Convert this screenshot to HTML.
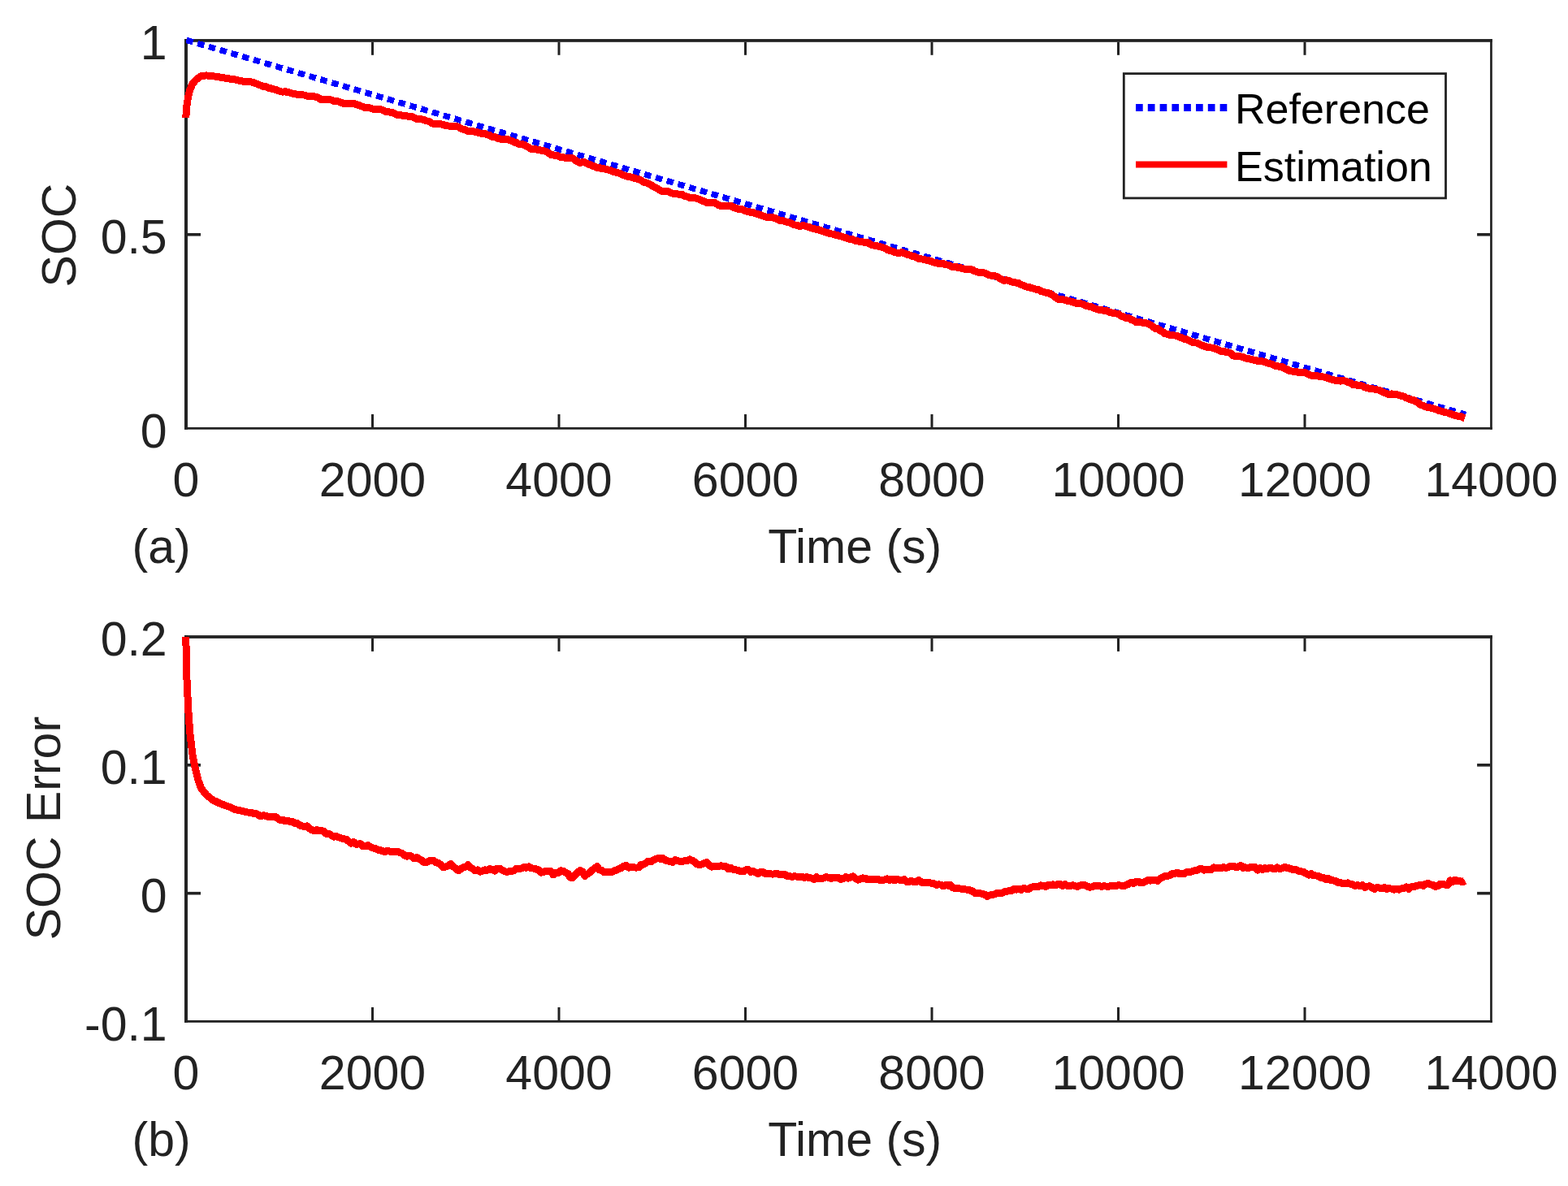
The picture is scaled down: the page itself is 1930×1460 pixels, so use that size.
<!DOCTYPE html>
<html><head><meta charset="utf-8"><title>SOC estimation</title>
<style>html,body{margin:0;padding:0;background:#fff;}svg{display:block;}</style>
</head><body>
<svg width="1930" height="1460" viewBox="0 0 1930 1460">
<rect width="1930" height="1460" fill="#ffffff"/>
<g fill="#222222">
<rect x="227" y="48.06" width="1609.8" height="3.74"/>
<rect x="227" y="525.96" width="1609.8" height="2.74"/>
<rect x="227" y="48.06" width="4" height="480.64"/>
<rect x="1834.1" y="48.06" width="2.7" height="480.64"/>
<rect x="457" y="509.96" width="3" height="16"/>
<rect x="457" y="51.8" width="3" height="16"/>
<rect x="686.5" y="509.96" width="3" height="16"/>
<rect x="686.5" y="51.8" width="3" height="16"/>
<rect x="916" y="509.96" width="3" height="16"/>
<rect x="916" y="51.8" width="3" height="16"/>
<rect x="1145.5" y="509.96" width="3" height="16"/>
<rect x="1145.5" y="51.8" width="3" height="16"/>
<rect x="1375" y="509.96" width="3" height="16"/>
<rect x="1375" y="51.8" width="3" height="16"/>
<rect x="1604.5" y="509.96" width="3" height="16"/>
<rect x="1604.5" y="51.8" width="3" height="16"/>
<rect x="231" y="286.95" width="16" height="3.6"/>
<rect x="1818.1" y="286.95" width="16" height="3.6"/>
</g>
<path d="M229.42 49.42 L1804.00 510.30" fill="none" stroke="#0000ff" stroke-width="7.4" stroke-dasharray="8.5 5.828" shape-rendering="crispEdges"/><path d="M228.9 144.7L229.2 135.9L230 129.2L231.1 122.5L232.3 115.8L234.2 109.4L237 103.2L240 99.5L243.9 95.9L247.7 93.8L253.9 92.9L261.6 93.6L270.9 95.1L281.7 96.9L290 98.1L300 100.4L303 100L306 100.2L309 100.8L312 101.5L315 102.8L318 104.1L321 105.1L324 106.5L327 106.5L330 108.1L333 108.5L336 109.8L339 110.3L342 111.4L345 112.6L348 113.2L351 112.7L354 113.6L357 114.1L360 115.1L363 115.7L366 116.4L369 116.3L372 116.8L375 117.1L378 118.2L381 118.6L384 118.5L387 118.9L390 119.6L393 121.2L396 123L399 122.7L402 122.4L405 122.1L408 123.2L411 124.4L414 124.5L417 125.2L420 126.5L423 127.3L426 127.1L429 127L432 127.1L435 127.3L438 128.4L441 129.4L444 130.4L447 131.5L450 132.7L453 132.9L456 133L459 134.2L462 134.3L465 134.4L468 134.7L471 135.3L474 137.2L477 137.3L480 138.1L483 138.4L486 139.8L489 141.3L492 141.7L495 142L498 142.8L501 142.8L504 144L507 143.4L510 145L513 146.3L516 146.1L519 147L522 147.7L525 148.8L528 149.4L531 151.3L534 152.7L537 152.8L540 152.4L543 152.9L546 153.7L549 154.8L552 155L555 155.4L558 155.3L561 155.4L564 156.1L567 158L570 159.2L573 159.8L576 161.3L579 161.2L582 161.6L585 162.3L588 162.9L591 164L594 164.4L597 164.6L600 165.8L603 166.7L606 168.4L609 168.6L612 170.1L615 170.9L618 171.8L621 171.1L624 171L627 172.4L630 173.6L633 175.1L636 175.7L639 177.5L642 177.5L645 178.2L648 180.1L651 181.6L654 183.6L657 184L660 183.9L663 184.3L666 185.1L669 185.6L672 186.5L675 188L678 190.3L681 191L684 191.3L687 192L690 193.5L693 193.8L696 194.3L699 194.1L702 194.3L705 194.8L708 197.2L711 199.2L714 200.5L717 199.5L720 199.9L723 201.7L726 202.6L729 204L732 204.8L735 206.4L738 206.7L741 207.8L744 207.8L747 208.7L750 209.3L753 210.4L756 211.7L759 212.4L762 213.1L765 214.4L768 215.8L771 217L774 217.6L777 218L780 219.1L783 219.8L786 220.6L789 222L792 224.1L795 224.8L798 225.8L801 227.5L804 229.7L807 231L810 232.6L813 234.6L816 235.6L819 235.8L822 235.5L825 237.1L828 238.1L831 238.7L834 238.9L837 239.5L840 239.7L843 241.4L846 242L849 243.7L852 243.1L855 243.7L858 244.4L861 245.6L864 247.2L867 248L870 249.4L873 249L876 249.3L879 249.1L882 251L885 252.8L888 253.7L891 253.3L894 253.6L897 253.6L900 253.7L903 255.3L906 256.4L909 257.4L912 257.3L915 258.5L918 260L921 260.4L924 261.4L927 261.6L930 262.9L933 263.7L936 264.6L939 265.8L942 267L945 267L948 267.2L951 267.6L954 268.6L957 269.9L960 271.7L963 271.5L966 272.6L969 273.3L972 274.1L975 275.7L978 276.8L981 277.4L984 278.3L987 277.9L990 277.9L993 278.9L996 279.4L999 280.8L1002 281.5L1005 282.4L1008 282.9L1011 284.1L1014 285.2L1017 286.2L1020 287L1023 287.8L1026 288.4L1029 289.3L1032 290L1035 290.9L1038 291.9L1041 292.5L1044 293.8L1047 294.5L1050 294.9L1053 296.5L1056 296.9L1059 297.9L1062 297.9L1065 298.6L1068 298.6L1071 300.5L1074 301.8L1077 302.4L1080 302.8L1083 303.7L1086 304.5L1089 305.5L1092 307.3L1095 308.4L1098 309.2L1101 310.7L1104 311.2L1107 311.3L1110 310.6L1113 311.8L1116 313.1L1119 313.8L1122 315.1L1125 315.7L1128 317.1L1131 318.7L1134 318.8L1137 319.4L1140 320.1L1143 320.6L1146 321.7L1149 322.8L1152 323.5L1155 324.3L1158 324.9L1161 324.5L1164 325.7L1167 326.2L1170 327.5L1173 328.7L1176 328.3L1179 329.4L1182 329.7L1185 330.6L1188 331.3L1191 331.8L1194 331.3L1197 332.2L1200 333.9L1203 334.9L1206 335.4L1209 335.4L1212 336L1215 337.5L1218 338.9L1221 339.2L1224 339.5L1227 340.4L1230 342.3L1233 343.9L1236 345.4L1239 344.8L1242 345.7L1245 347L1248 347.5L1251 348.2L1254 348.7L1257 350.5L1260 351.6L1263 353L1266 353.3L1269 354.3L1272 355.2L1275 356.1L1278 356.6L1281 358.3L1284 359.2L1287 360.2L1290 360.6L1293 361.7L1296 363.5L1299 365.8L1302 368.2L1305 368.4L1308 368.6L1311 369.4L1314 370.3L1317 370.9L1320 371.6L1323 372.6L1326 373.7L1329 373.4L1332 374.2L1335 375.6L1338 376.7L1341 377.4L1344 377.8L1347 379.5L1350 380.6L1353 381.4L1356 381.6L1359 382.5L1362 382.7L1365 384L1368 384.8L1371 385.5L1374 386L1377 386.6L1380 389.1L1383 389.9L1386 391.4L1389 391.5L1392 393.3L1395 394.3L1398 396.3L1401 396.6L1404 396.6L1407 397.4L1410 397.6L1413 398.4L1416 399.8L1419 402.2L1422 404.5L1425 404.6L1428 406.8L1431 408.4L1434 410.8L1437 411.4L1440 412.4L1443 412.7L1446 413L1449 413.7L1452 415L1455 416L1458 417.4L1461 417.9L1464 419.7L1467 421.2L1470 421.8L1473 422.1L1476 423.3L1479 425.1L1482 425.9L1485 427.1L1488 427.5L1491 428L1494 428.6L1497 429.7L1500 430.8L1503 432.4L1506 432.3L1509 433.4L1512 433.8L1515 435.1L1518 437.8L1521 438.6L1524 439L1527 438.8L1530 439.6L1533 441L1536 441.3L1539 442.1L1542 443L1545 443.4L1548 444.3L1551 444.9L1554 444.9L1557 445.5L1560 446.9L1563 447.5L1566 448.5L1569 450L1572 450.8L1575 451.2L1578 451.3L1581 453.7L1584 454.6L1587 456.4L1590 457L1593 457L1596 457.4L1599 458.9L1602 458.6L1605 458.4L1608 459.4L1611 461.2L1614 462.1L1617 462L1620 462.4L1623 463.1L1626 463.4L1629 464L1632 464.7L1635 465.7L1638 466.8L1641 467.5L1644 468.6L1647 468.2L1650 469.2L1653 468.5L1656 469.1L1659 470.5L1662 471.2L1665 473.4L1668 473.3L1671 474.4L1674 474.4L1677 475.1L1680 476.9L1683 477.7L1686 478.3L1689 478.9L1692 479.1L1695 479.8L1698 480.4L1701 481.8L1704 483.7L1707 484.4L1710 485.7L1713 484.9L1716 485.6L1719 485.5L1722 486.4L1725 487.5L1728 488.1L1731 489.9L1734 490.9L1737 492.1L1740 492.6L1743 494.5L1746 496.1L1749 498.8L1752 499.3L1755 501L1758 501.5L1761 502.1L1764 502.9L1767 503.8L1770 505L1773 505.8L1776 506.9L1779 507.7L1782 508.2L1785 509.5L1788 510.3L1791 511.4L1794 512.1L1797 512.3L1800 513.6L1803 514.6" fill="none" stroke="#ff0000" stroke-width="9" stroke-linejoin="round" shape-rendering="crispEdges"/>
<g font-family="'Liberation Sans', Arial, Helvetica, sans-serif" font-size="59" fill="#222222">
<text x="229" y="611" text-anchor="middle">0</text>
<text x="458.5" y="611" text-anchor="middle">2000</text>
<text x="688" y="611" text-anchor="middle">4000</text>
<text x="917.5" y="611" text-anchor="middle">6000</text>
<text x="1147" y="611" text-anchor="middle">8000</text>
<text x="1376.5" y="611" text-anchor="middle">10000</text>
<text x="1606" y="611" text-anchor="middle">12000</text>
<text x="1835.5" y="611" text-anchor="middle">14000</text>
<text x="205.7" y="73.4" text-anchor="end">1</text>
<text x="205.7" y="312.1" text-anchor="end">0.5</text>
<text x="205.7" y="550.9" text-anchor="end">0</text>
<text x="1052.2" y="692.8" text-anchor="middle">Time (s)</text>
<text x="162.6" y="692.8">(a)</text>
<text transform="translate(92.5 289.5) rotate(-90)" text-anchor="middle">SOC</text>
</g>
<g fill="#222222">
<rect x="227" y="782.1" width="1609.8" height="3.8"/>
<rect x="227" y="1256" width="1609.8" height="2.8"/>
<rect x="227" y="782.1" width="4" height="476.7"/>
<rect x="1834.1" y="782.1" width="2.7" height="476.7"/>
<rect x="457" y="1240" width="3" height="16"/>
<rect x="457" y="785.9" width="3" height="16"/>
<rect x="686.5" y="1240" width="3" height="16"/>
<rect x="686.5" y="785.9" width="3" height="16"/>
<rect x="916" y="1240" width="3" height="16"/>
<rect x="916" y="785.9" width="3" height="16"/>
<rect x="1145.5" y="1240" width="3" height="16"/>
<rect x="1145.5" y="785.9" width="3" height="16"/>
<rect x="1375" y="1240" width="3" height="16"/>
<rect x="1375" y="785.9" width="3" height="16"/>
<rect x="1604.5" y="1240" width="3" height="16"/>
<rect x="1604.5" y="785.9" width="3" height="16"/>
<rect x="231" y="940.03" width="16" height="3.6"/>
<rect x="1818.1" y="940.03" width="16" height="3.6"/>
<rect x="231" y="1097.87" width="16" height="3.6"/>
<rect x="1818.1" y="1097.87" width="16" height="3.6"/>
</g>
<path d="M228.9 784.2L229.2 813.5L230 836.6L231.1 859.8L232.3 882.9L234.2 906L237 929.1L240 944.5L243.9 960L247.7 970.7L253.9 978.4L261.6 984.6L270.9 989.2L281.7 993.1L290 996.8L300 998.8L303 999.8L306 1000.1L309 1000.3L312 1001.5L315 1001.7L318 1003.2L321 1004.9L324 1003.8L327 1004.2L330 1005.5L333 1005.6L336 1005.7L339 1005.5L342 1007.7L345 1009.7L348 1009.2L351 1011L354 1010.3L357 1011.4L360 1011.5L363 1013.7L366 1013.7L369 1016L372 1016.8L375 1017.6L378 1016.9L381 1020L384 1021.8L387 1022.7L390 1021.5L393 1022.7L396 1022.6L399 1023.6L402 1026.7L405 1026.4L408 1028.4L411 1030.2L414 1029.7L417 1030.9L420 1031.8L423 1032.9L426 1033.1L429 1035.6L432 1038.1L435 1036.3L438 1039.1L441 1039L444 1038.9L447 1042L450 1041.7L453 1040.7L456 1042.6L459 1044L462 1044.4L465 1046.2L468 1046.6L471 1047.7L474 1048.7L477 1047.1L480 1048.2L483 1048L486 1049L489 1048.3L492 1049.3L495 1050.7L498 1052.8L501 1054.2L504 1053.2L507 1054.6L510 1056.8L513 1055.4L516 1057.7L519 1059.2L522 1061.7L525 1061.4L528 1059.9L531 1059.5L534 1059.5L537 1061.9L540 1062.5L543 1065L546 1067.9L549 1066.9L552 1065.5L555 1063.4L558 1066.8L561 1069L564 1071.8L567 1069.9L570 1067.9L573 1067.1L576 1064.8L579 1068.2L582 1069.6L585 1071.9L588 1070.9L591 1073.1L594 1071.9L597 1070.9L600 1071.3L603 1069.7L606 1070.4L609 1072.1L612 1069.1L615 1069.1L618 1071.1L621 1072.6L624 1073.3L627 1072.6L630 1072.5L633 1071.4L636 1069L639 1069.3L642 1069L645 1067.5L648 1068.3L651 1066.8L654 1068.8L657 1069.1L660 1070L663 1071.1L666 1074.1L669 1073.4L672 1072.3L675 1072.9L678 1072.4L681 1076.9L684 1074.1L687 1074.8L690 1071.9L693 1072.1L696 1074.1L699 1075.2L702 1080.3L705 1080.7L708 1076.7L711 1074L714 1071.5L717 1073.1L720 1078.4L723 1075.9L726 1074.1L729 1071.1L732 1068.9L735 1066.5L738 1070.8L741 1071.6L744 1073.9L747 1073.5L750 1073.4L753 1073.5L756 1072L759 1071.2L762 1069.6L765 1068.3L768 1066.2L771 1065.5L774 1068.1L777 1067.2L780 1067.9L783 1068.1L786 1067.9L789 1064.3L792 1064.2L795 1062.4L798 1060L801 1060.9L804 1058.9L807 1057.6L810 1056.4L813 1057.3L816 1056.5L819 1058.9L822 1060L825 1060.1L828 1061.3L831 1058.6L834 1059.7L837 1060.4L840 1060.4L843 1059.5L846 1059.6L849 1057.9L852 1059.2L855 1061L858 1063.8L861 1064.7L864 1064L867 1062.6L870 1061.4L873 1065.3L876 1067.1L879 1066.9L882 1066.8L885 1066.4L888 1065.8L891 1066.8L894 1066.8L897 1069.9L900 1068.5L903 1070.8L906 1070.8L909 1071.5L912 1072.8L915 1072.8L918 1070.9L921 1070.7L924 1073.4L927 1072.4L930 1074.1L933 1075.6L936 1073.7L939 1073.4L942 1075.7L945 1075.7L948 1075.6L951 1076.2L954 1075.7L957 1075.4L960 1076.9L963 1076.5L966 1076.3L969 1078.7L972 1078.6L975 1079.5L978 1078.7L981 1079.2L984 1079.1L987 1079.3L990 1080.5L993 1079.7L996 1080.9L999 1081L1002 1082.7L1005 1079.7L1008 1081.9L1011 1081.1L1014 1081L1017 1079.6L1020 1080.3L1023 1081.3L1026 1080.5L1029 1080.9L1032 1080.7L1035 1082.3L1038 1081.5L1041 1079.7L1044 1081.1L1047 1080L1050 1078.9L1053 1081.5L1056 1083.2L1059 1082L1062 1080.9L1065 1081.2L1068 1083L1071 1082.1L1074 1082.1L1077 1082.2L1080 1082.4L1083 1083.3L1086 1083.2L1089 1083L1092 1081.9L1095 1083.3L1098 1082.2L1101 1083.9L1104 1082L1107 1083.2L1110 1083.6L1113 1082.6L1116 1085.6L1119 1085.7L1122 1084.3L1125 1085.8L1128 1085.8L1131 1083.4L1134 1086.3L1137 1086.4L1140 1086.8L1143 1086.1L1146 1087.1L1149 1087.6L1152 1089.3L1155 1088.9L1158 1089.1L1161 1090.9L1164 1089.5L1167 1090.2L1170 1089.5L1173 1093.1L1176 1093.1L1179 1093.6L1182 1094L1185 1094.2L1188 1094.9L1191 1095.2L1194 1095.9L1197 1097.1L1200 1099.4L1203 1099.5L1206 1099.8L1209 1100.3L1212 1101.1L1215 1103.4L1218 1102.2L1221 1101.6L1224 1101L1227 1099.5L1230 1099.6L1233 1099.6L1236 1097.9L1239 1097.4L1242 1096.8L1245 1096.5L1248 1094.4L1251 1095.2L1254 1094.2L1257 1095.3L1260 1093.4L1263 1094.1L1266 1094.5L1269 1092.4L1272 1091.7L1275 1092L1278 1091.3L1281 1089.9L1284 1090.6L1287 1091.5L1290 1089.5L1293 1089.5L1296 1088.8L1299 1090L1302 1088.6L1305 1088.6L1308 1090.7L1311 1088.7L1314 1090.4L1317 1090.8L1320 1089.8L1323 1090.3L1326 1091.7L1329 1090L1332 1089.9L1335 1089.4L1338 1090.8L1341 1092.2L1344 1091.9L1347 1090.3L1350 1090.4L1353 1090.7L1356 1091.3L1359 1090.8L1362 1091.1L1365 1091.1L1368 1090.3L1371 1090.3L1374 1090.3L1377 1089.8L1380 1090.1L1383 1090.9L1386 1089.3L1389 1088.3L1392 1086.3L1395 1087.7L1398 1085.2L1401 1085.2L1404 1086.9L1407 1086.4L1410 1085.2L1413 1083.5L1416 1084.2L1419 1083.2L1422 1083.6L1425 1084.3L1428 1081.7L1431 1080L1434 1078.7L1437 1078.6L1440 1077.5L1443 1075.6L1446 1075.7L1449 1074.1L1452 1075.9L1455 1075.5L1458 1075.3L1461 1073.6L1464 1074L1467 1072.8L1470 1071.9L1473 1071.4L1476 1069.9L1479 1069.3L1482 1071.1L1485 1070L1488 1070.1L1491 1070.6L1494 1067.9L1497 1068.3L1500 1068.8L1503 1068.7L1506 1067.6L1509 1068.5L1512 1067.6L1515 1066.1L1518 1066.1L1521 1067.4L1524 1067.2L1527 1065.3L1530 1068.3L1533 1067.8L1536 1068.8L1539 1067.5L1542 1067.9L1545 1067.4L1548 1071L1551 1068.7L1554 1070.5L1557 1068.6L1560 1069.5L1563 1068L1566 1069L1569 1070L1572 1067.8L1575 1069.7L1578 1068.9L1581 1067.4L1584 1068.3L1587 1069L1590 1070.1L1593 1070.3L1596 1070.9L1599 1072.5L1602 1072.9L1605 1073.7L1608 1075.6L1611 1077.1L1614 1075.7L1617 1077.9L1620 1078L1623 1078.4L1626 1080.7L1629 1080.2L1632 1082.7L1635 1081.5L1638 1083.5L1641 1083.9L1644 1084.4L1647 1086.6L1650 1086.6L1653 1087.7L1656 1087.4L1659 1086.9L1662 1088.2L1665 1089L1668 1090.5L1671 1089.5L1674 1090.8L1677 1089.7L1680 1092.3L1683 1091.1L1686 1090.9L1689 1092.9L1692 1094.3L1695 1092.3L1698 1093.1L1701 1093.4L1704 1092.6L1707 1094.4L1710 1093.8L1713 1094.1L1716 1095.2L1719 1094L1722 1095.1L1725 1093.8L1728 1093.3L1731 1091.9L1734 1094.5L1737 1091.8L1740 1091.6L1743 1090.6L1746 1090L1749 1089.2L1752 1090.6L1755 1088L1758 1087.6L1761 1089L1764 1089.6L1767 1091.4L1770 1090.6L1773 1088.1L1776 1088L1779 1089.2L1782 1089.4L1785 1083.9L1788 1085.7L1791 1083.1L1794 1085L1797 1084.6L1800 1086L1803 1084.2" fill="none" stroke="#ff0000" stroke-width="9" stroke-linejoin="round" shape-rendering="crispEdges"/>
<g font-family="'Liberation Sans', Arial, Helvetica, sans-serif" font-size="59" fill="#222222">
<text x="229" y="1341" text-anchor="middle">0</text>
<text x="458.5" y="1341" text-anchor="middle">2000</text>
<text x="688" y="1341" text-anchor="middle">4000</text>
<text x="917.5" y="1341" text-anchor="middle">6000</text>
<text x="1147" y="1341" text-anchor="middle">8000</text>
<text x="1376.5" y="1341" text-anchor="middle">10000</text>
<text x="1606" y="1341" text-anchor="middle">12000</text>
<text x="1835.5" y="1341" text-anchor="middle">14000</text>
<text x="205.7" y="807.4" text-anchor="end">0.2</text>
<text x="205.7" y="965.2" text-anchor="end">0.1</text>
<text x="205.7" y="1123.1" text-anchor="end">0</text>
<text x="205.7" y="1280.9" text-anchor="end">-0.1</text>
<text x="1052.2" y="1422.8" text-anchor="middle">Time (s)</text>
<text x="162.6" y="1422.8">(b)</text>
<text transform="translate(74 1019.6) rotate(-90)" text-anchor="middle">SOC Error</text>
</g>
<rect x="1383.3" y="90.6" width="396.2" height="153.3" fill="#ffffff" stroke="#222222" stroke-width="2.8"/>
<path d="M1398 132.5H1510.4" stroke="#0000ff" stroke-width="9" stroke-dasharray="8.7 6.1"/>
<path d="M1398 202.6H1510.4" stroke="#ff0000" stroke-width="8"/>
<g font-family="'Liberation Sans', Arial, Helvetica, sans-serif" font-size="52" fill="#000000">
<text x="1520" y="151.8">Reference</text>
<text x="1520" y="223.2">Estimation</text>
</g>
</svg>
</body></html>
